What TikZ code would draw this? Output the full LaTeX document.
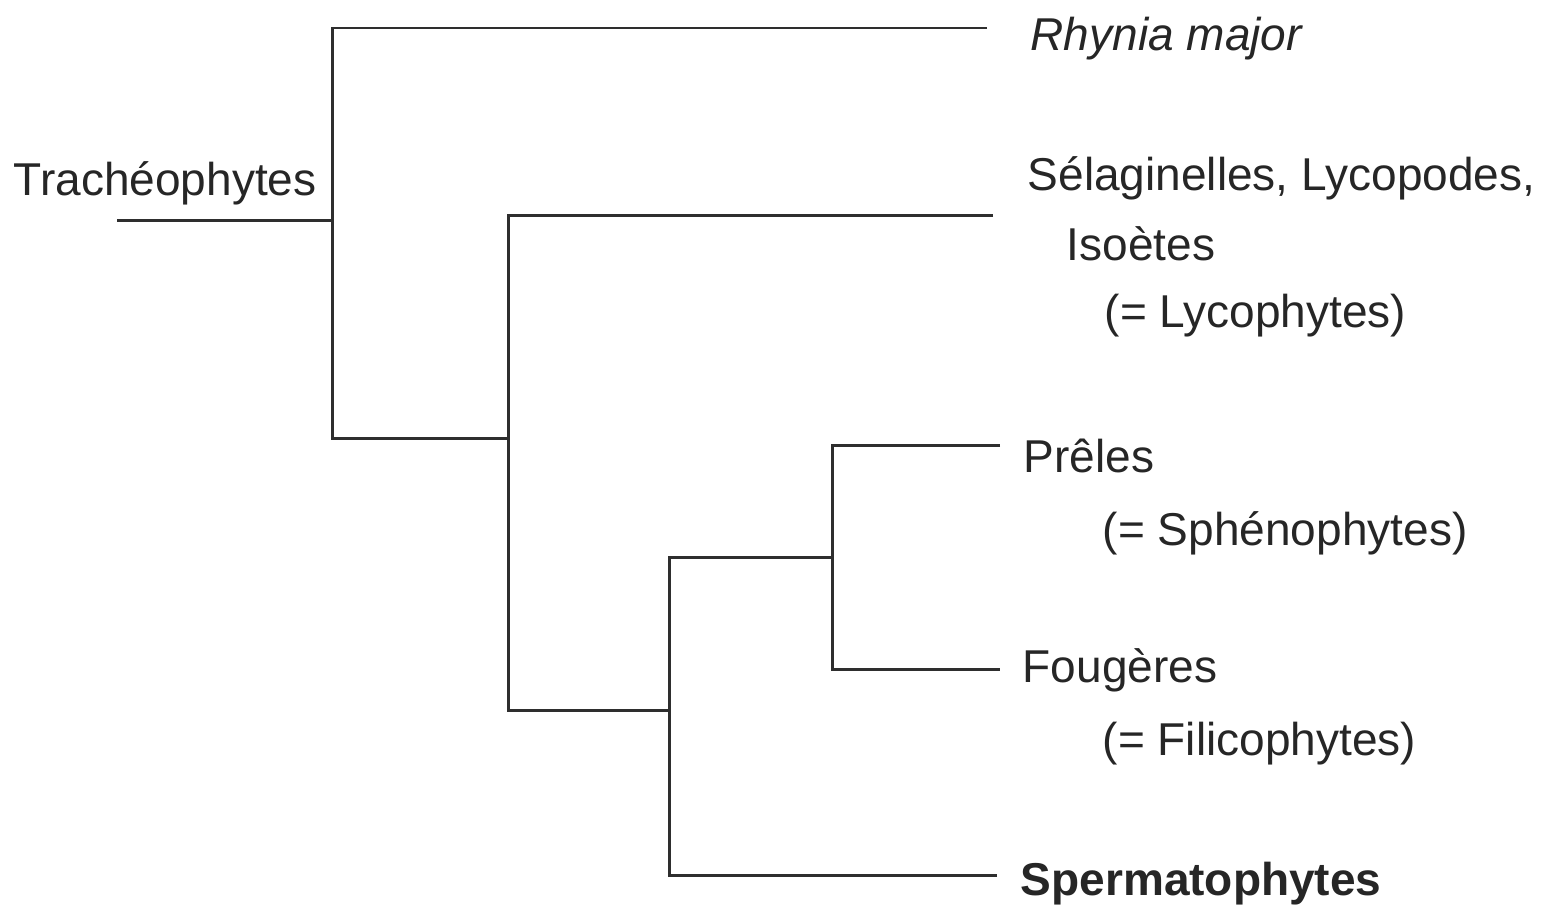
\documentclass[tikz,border=0pt]{standalone}
\usepackage{fontspec}
\setmainfont{Liberation Sans}
\begin{document}
\begin{tikzpicture}[
  x=1cm, y=1cm,
  branch/.style={draw=black!82, line width=0.85pt, line join=miter},
  taxon/.style={anchor=base west, inner sep=0pt, text=black!85,
                font=\fontsize{13.1pt}{15pt}\selectfont},
]
\useasboundingbox (0,0) rectangle (15.6,-9.09);

% branch points of the tree
\coordinate (troot) at (1.17,-2.20);
\coordinate (n1) at (3.32,-2.20);
\coordinate (n2) at (5.08,-4.38);
\coordinate (n3) at (6.69,-7.10);
\coordinate (n4) at (8.32,-5.57);

% free ends of the terminal branches
\coordinate (rhy-end)   at (9.87,-0.28);
\coordinate (sel-end)   at (9.93,-2.15);
\coordinate (pre-end)   at (10.00,-4.45);
\coordinate (fou-end)   at (10.00,-6.69);
\coordinate (sperm-end) at (9.97,-8.75);

% branches
\draw[branch] (troot) -- (n1);
\draw[branch] (rhy-end) -| (n1) |- (n2);
\draw[branch] (sel-end) -| (n2) |- (n3);
\draw[branch] (sperm-end) -| (n3) |- (n4);
\draw[branch] (pre-end) -| (n4) |- (fou-end);

% labels
\node[taxon] (trach) at (0.13,-1.95) {Trachéophytes};
\node[taxon] (rhynia) at (10.30,-0.50) {\itshape Rhynia major};
\node[taxon] (selag) at (10.27,-1.90) {Sélaginelles, Lycopodes,};
\node[taxon] (isoetes) at (10.66,-2.60) {Isoètes};
\node[taxon] (lyco) at (11.04,-3.27) {(= Lycophytes)};
\node[taxon] (preles) at (10.23,-4.72) {Prêles};
\node[taxon] (spheno) at (11.02,-5.45) {(= Sphénophytes)};
\node[taxon] (fougeres) at (10.22,-6.82) {Fougères};
\node[taxon] (filico) at (11.02,-7.55) {(= Filicophytes)};
\node[taxon, font=\fontsize{13.1pt}{15pt}\selectfont\bfseries] (sperm) at (10.20,-8.95) {Spermatophytes};
\end{tikzpicture}
\end{document}
